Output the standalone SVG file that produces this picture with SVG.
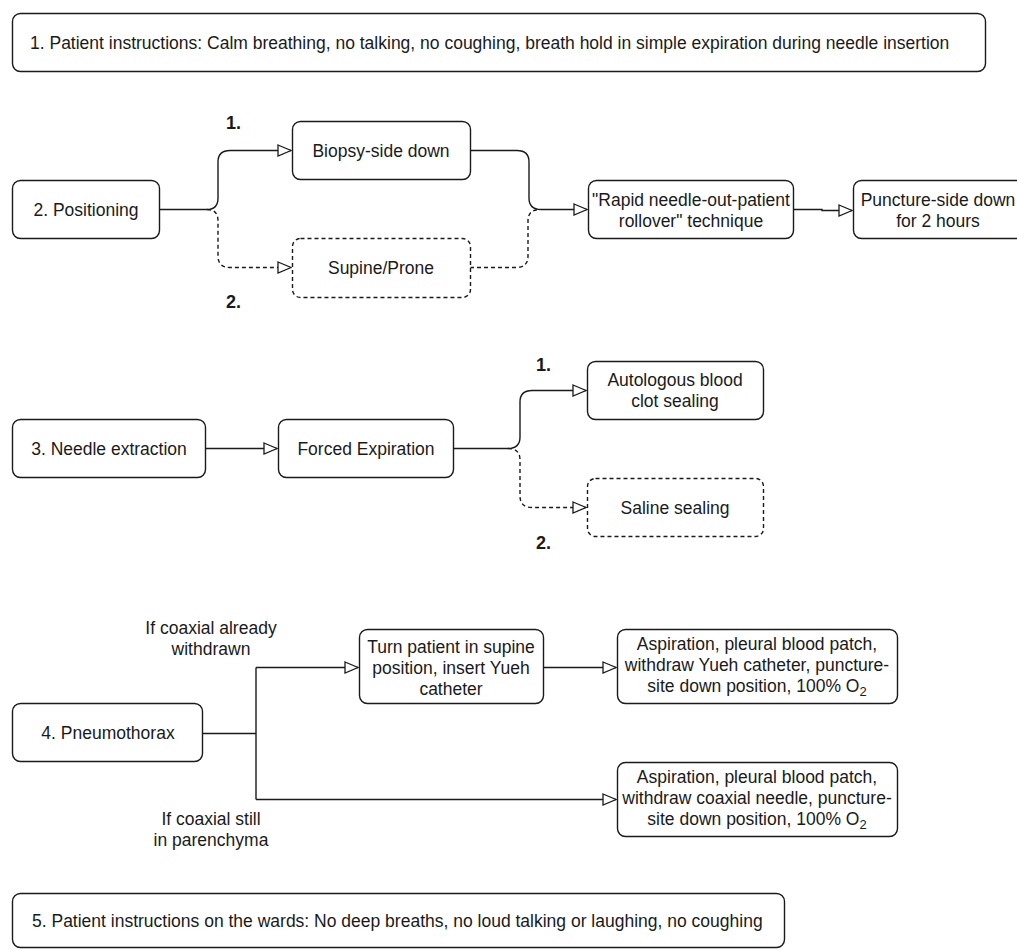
<svg xmlns="http://www.w3.org/2000/svg" width="1017" height="950" viewBox="0 0 1017 950">
<defs>
<style>
.box{fill:#fff;stroke:#1a1a1a;stroke-width:1.4}
.dash{stroke-dasharray:4 3}
.t{font-family:"Liberation Sans",Arial,sans-serif;font-size:17.5px;fill:#1a1a1a}
.c{text-anchor:middle}
.b{font-weight:bold;font-size:18px}
.ln{fill:none;stroke:#1a1a1a;stroke-width:1.4}
.ar{marker-end:url(#tri)}
</style>
<marker id="tri" viewBox="0 0 15 13" refX="14" refY="6.5" markerWidth="15" markerHeight="13" markerUnits="userSpaceOnUse" orient="auto">
<path d="M1,1 L14,6.5 L1,12 Z" fill="#fff" stroke="#1a1a1a" stroke-width="1.3" stroke-dasharray="none"/>
</marker>
</defs>
<rect width="1017" height="950" fill="#fff"/>

<g id="connectors">
<path class="ln ar" d="M159,209.5 H207 Q218,209.5 218,198 V162 Q218,150.5 230,150.5 H291"/>
<path class="ln dash ar" d="M207,209.5 Q218,209.5 218,221 V256 Q218,267.5 230,267.5 H291"/>
<path class="ln ar" d="M470,150.5 H517 Q529,150.5 529,162 V198 Q529,209.5 541,209.5 H587"/>
<path class="ln dash" d="M470,267.5 H516 Q528,267.5 528,256 V221 Q528,209.5 540,209.5"/>
<path class="ln ar" d="M794,209.5 H822 V210.5 H852"/>
<path class="ln ar" d="M205,448.5 H277"/>
<path class="ln ar" d="M453,448.5 H508 Q520,448.5 520,437 V402 Q520,390.5 532,390.5 H586"/>
<path class="ln dash ar" d="M508,448.5 Q520,448.5 520,460 V496 Q520,507.5 532,507.5 H586"/>
<path class="ln" d="M203,733.5 H256 M256,667.5 V799.5"/>
<path class="ln ar" d="M256,667.5 H358"/>
<path class="ln ar" d="M256,799.5 H616"/>
<path class="ln ar" d="M544,667.5 H616"/>
</g>

<g id="n1"><rect class="box" x="12.5" y="13.5" width="973" height="58" rx="8"/>
<text class="t" x="30" y="49">1. Patient instructions: Calm breathing, no talking, no coughing, breath hold in simple expiration during needle insertion</text></g>

<g id="n2"><rect class="box" x="12.5" y="180.5" width="147" height="58" rx="8"/>
<text class="t c" x="86" y="216">2. Positioning</text></g>
<g id="n2a"><rect class="box" x="292.5" y="121.5" width="178" height="58" rx="8"/>
<text class="t c" x="381" y="157">Biopsy-side down</text></g>
<g id="n2b"><rect class="box dash" x="292.5" y="238.5" width="178" height="59" rx="8"/>
<text class="t c" x="381" y="274">Supine/Prone</text></g>
<g id="n2c"><rect class="box" x="588.5" y="180.5" width="205" height="58" rx="8"/>
<text class="t c" x="691" y="206">"Rapid needle-out-patient</text>
<text class="t c" x="691" y="227">rollover" technique</text></g>
<g id="n2d"><rect class="box" x="853.5" y="180.5" width="172" height="58" rx="8"/>
<text class="t c" x="938" y="206">Puncture-side down</text>
<text class="t c" x="938" y="227">for 2 hours</text></g>
<text class="t b" x="226" y="129">1.</text>
<text class="t b" x="226" y="308">2.</text>

<g id="n3"><rect class="box" x="12.5" y="419.5" width="193" height="58" rx="8"/>
<text class="t c" x="109" y="455">3. Needle extraction</text></g>
<g id="n3a"><rect class="box" x="278.5" y="419.5" width="175" height="58" rx="8"/>
<text class="t c" x="366" y="455">Forced Expiration</text></g>
<g id="n3b"><rect class="box" x="587.5" y="361.5" width="176" height="58" rx="8"/>
<text class="t c" x="675" y="386">Autologous blood</text>
<text class="t c" x="675" y="407">clot sealing</text></g>
<g id="n3c"><rect class="box dash" x="587.5" y="478.5" width="176" height="58" rx="8"/>
<text class="t c" x="675" y="514">Saline sealing</text></g>
<text class="t b" x="536" y="371">1.</text>
<text class="t b" x="536" y="549">2.</text>

<g id="n4"><rect class="box" x="12.5" y="703.5" width="190" height="58" rx="8"/>
<text class="t c" x="108" y="739">4. Pneumothorax</text></g>
<g id="n4a"><rect class="box" x="359.5" y="629.5" width="184" height="74" rx="8"/>
<text class="t c" x="451" y="653">Turn patient in supine</text>
<text class="t c" x="451" y="674">position, insert Yueh</text>
<text class="t c" x="451" y="695">catheter</text></g>
<g id="n4b"><rect class="box" x="617.5" y="629.5" width="280" height="74" rx="8"/>
<text class="t c" x="757" y="650">Aspiration, pleural blood patch,</text>
<text class="t c" x="757" y="671">withdraw Yueh catheter, puncture-</text>
<text class="t c" x="757" y="692">site down position, 100% O<tspan dy="4" font-size="13">2</tspan></text></g>
<g id="n4c"><rect class="box" x="617.5" y="762.5" width="280" height="74" rx="8"/>
<text class="t c" x="757" y="783">Aspiration, pleural blood patch,</text>
<text class="t c" x="757" y="804">withdraw coaxial needle, puncture-</text>
<text class="t c" x="757" y="825">site down position, 100% O<tspan dy="4" font-size="13">2</tspan></text></g>
<text class="t c" x="211" y="634">If coaxial already</text>
<text class="t c" x="211" y="655">withdrawn</text>
<text class="t c" x="211" y="825">If coaxial still</text>
<text class="t c" x="211" y="846">in parenchyma</text>

<g id="n5"><rect class="box" x="12.5" y="893.5" width="772" height="54" rx="8"/>
<text class="t" x="32" y="927">5. Patient instructions on the wards: No deep breaths, no loud talking or laughing, no coughing</text></g>
</svg>
